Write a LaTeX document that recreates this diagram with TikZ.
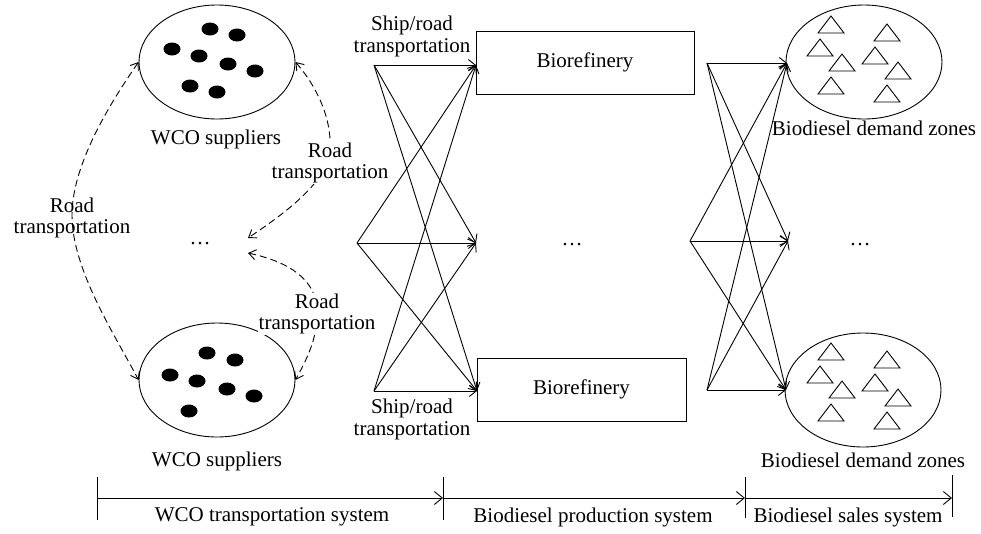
\documentclass[tikz,border=0pt]{standalone}
\usepackage{fontspec}
\setmainfont{Liberation Serif}
\usetikzlibrary{arrows.meta,shapes.geometric}
\begin{document}
\begin{tikzpicture}[x=1pt,y=-1pt,
  font=\fontsize{21}{22}\selectfont,
  flow/.style={line width=0.9pt,-{Straight Barb[length=7pt,width=11pt]}},
  road/.style={line width=0.9pt,dash pattern=on 7pt off 4pt,
    {Straight Barb[length=7pt,width=10pt]}-{Straight Barb[length=7pt,width=10pt]}},
  dim/.style={line width=0.9pt,-{Straight Barb[length=8pt,width=13pt]}},
  tick/.style={line width=0.9pt},
  zone/.style={ellipse,draw,line width=0.9pt,minimum width=156pt,minimum height=114pt,inner sep=0pt},
  plant/.style={rectangle,draw,line width=0.9pt,minimum height=63pt,inner sep=0pt},
  lbl/.style={align=center,inner sep=0pt},
  roadlbl/.style={lbl,font=\fontsize{21}{20.5}\selectfont},
  shiplbl/.style={lbl,font=\fontsize{21}{22}\selectfont},
  supdot/.style={fill=black},
  tri/.style={draw,line width=0.9pt,line join=miter}
]
\useasboundingbox (0,0) rectangle (981,533);

% supplier and demand zones
\node[zone] (sup1) at (217,62) {};
\node[zone] (sup2) at (217,380) {};
\node[zone] (dz1) at (864,62) {};
\node[zone] (dz2) at (863,390) {};

% dots in supplier zones
\foreach \x/\y in {210/29,237/35,172/49,199/56,228/64,255/71,190/86,217/92}
  \fill[supdot] (\x,\y) ellipse [x radius=8.5pt,y radius=6.5pt];
\foreach \x/\y in {207/353,235/360,170/375,197/381,227/389,254/396,189/411}
  \fill[supdot] (\x,\y) ellipse [x radius=8.5pt,y radius=6.5pt];

% triangles in demand zones
\foreach \x/\b in {831/33,887/41,820/56,875/64,842/71,898/79,831/94,887/102}{
  \draw[tri] ({\x-13},\b) -- (\x,{\b-17}) -- ({\x+13},\b) -- cycle;
  \draw[tri] ({\x-13},{\b+327}) -- (\x,{\b+310}) -- ({\x+13},{\b+327}) -- cycle;
}

% biorefineries
\node[plant,minimum width=218pt] (ref1) at (585,62.5) {Biorefinery};
\node[plant,minimum width=209pt] (ref2) at (581.5,389.5) {Biorefinery};

% ellipsis markers
\node[lbl] (dotsL) at (200,244) {\ldots};
\node[lbl] (dotsM) at (572,245) {\ldots};
\node[lbl] (dotsR) at (860,245) {\ldots};

% named points for connectors
\coordinate (sL1) at (374,65);
\coordinate (sL2) at (357,243);
\coordinate (sL3) at (374,391);
\coordinate (tL1) at (476,65);
\coordinate (tL2) at (476,243);
\coordinate (tL3) at (477,391);
\coordinate (sR1) at (707,63);
\coordinate (sR2) at (690,241);
\coordinate (sR3) at (707,390);
\coordinate (tR1) at (787,63);
\coordinate (tR2) at (788,241);
\coordinate (tR3) at (786,390);
\coordinate (dL1) at (248,238);
\coordinate (dL2) at (248,253);

% transport links
\foreach \s in {sL1,sL2,sL3}
  \foreach \t in {tL1,tL2,tL3}
    \draw[flow] (\s) -- (\t);
\foreach \s in {sR1,sR2,sR3}
  \foreach \t in {tR1,tR2,tR3}
    \draw[flow] (\s) -- (\t);

% dashed road transportation
\draw[road] (sup1.west) .. controls (118,92) and (72,160) .. (72,215)
  .. controls (72,270) and (115,335) .. (sup2.west);
\draw[road] (sup1.east) .. controls (318,88) and (332,120) .. (330,150)
  .. controls (328,180) and (290,210) .. (dL1);
\draw[road] (dL2) .. controls (290,262) and (316,280) .. (317,310)
  .. controls (318,340) and (305,362) .. (sup2.east);

% labels
\node[roadlbl] (roadL) at (72,218) {Road\\transportation};
\node[roadlbl,fill=white,inner sep=1pt] (roadU) at (330,163) {Road\\transportation};
\node[roadlbl,fill=white,inner sep=1pt] (roadD) at (317,314) {Road\\transportation};
\node[shiplbl] (ship1) at (412,36) {Ship/road\\transportation};
\node[shiplbl] (ship2) at (412,419) {Ship/road\\transportation};
\node[lbl] (wco1) at (216,139) {WCO suppliers};
\node[lbl] (wco2) at (217,461) {WCO suppliers};
\node[lbl] (bdz1) at (874,128) {Biodiesel demand zones};
\node[lbl] (bdz2) at (863,460) {Biodiesel demand zones};

% system bar
\coordinate (b0) at (97,498);
\coordinate (b1) at (443,498);
\coordinate (b2) at (745,498);
\coordinate (b3) at (952,498);
\draw[tick] (97,477) -- (97,520);
\draw[tick] (443,477) -- (443,520);
\draw[tick] (745,477) -- (745,518);
\draw[tick] (952,475) -- (952,517);
\draw[dim] (b0) -- (b1);
\draw[dim] (b1) -- (b2);
\draw[dim] (b2) -- (b3);
\node[lbl] (sys1) at (272,517) {WCO transportation system};
\node[lbl] (sys2) at (593,517) {Biodiesel production system};
\node[lbl] (sys3) at (848,517) {Biodiesel sales system};
\end{tikzpicture}
\end{document}
